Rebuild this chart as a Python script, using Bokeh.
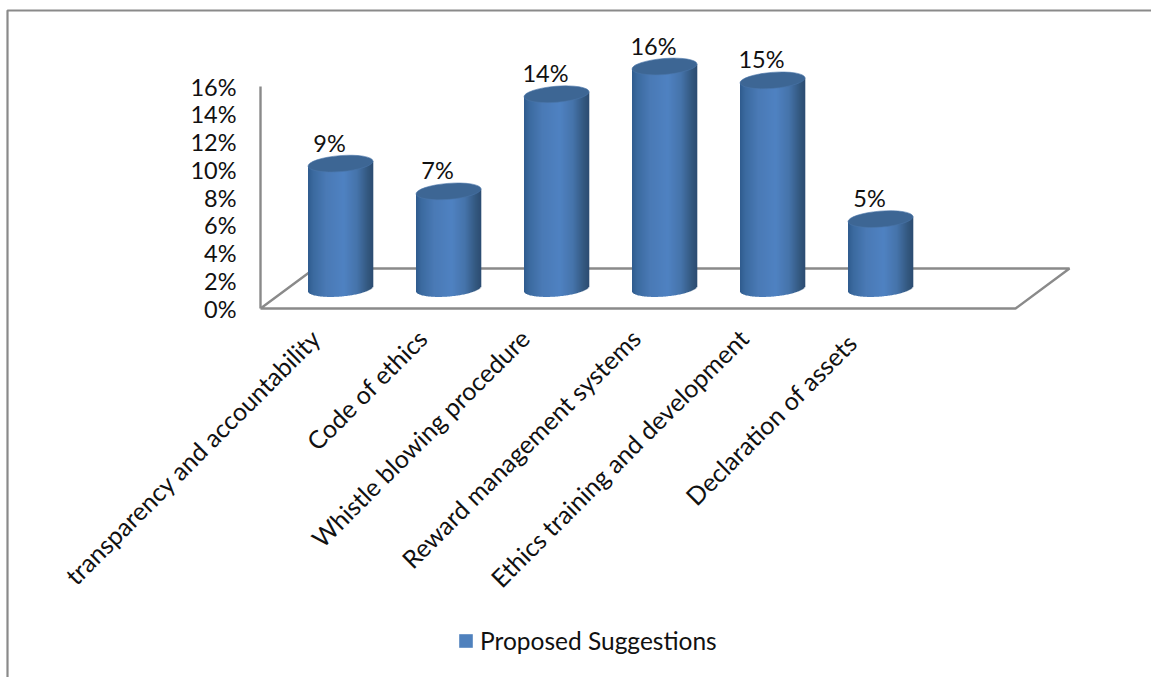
import math
import numpy as np
from bokeh.embed import file_html
from bokeh.resources import INLINE
from bokeh.core.properties import value
from bokeh.plotting import figure
from bokeh.models import ColumnDataSource, FixedTicker, Legend, LegendItem, LinearAxis, PrintfTickFormatter

# Survey results
categories = [
    "transparency and accountability",
    "Code of ethics",
    "Whistle blowing procedure",
    "Reward management systems",
    "Ethics training and development",
    "Declaration  of assets",
]
percentages = [9, 7, 14, 16, 15, 5]
axis_ticks = [0, 2, 4, 6, 8, 10, 12, 14, 16]
series_name = "Proposed Suggestions"

# Layout (canvas pixels)
W, H = 1151, 677
FLOOR_PX = 308.0          # canvas row of 0 % on the front wall edge
PX_PER_PCT = 13.875
WALL_X = 260.0
FIRST_BAR_X = 340.0
BAR_STEP = 108.0
BAR_W = 65.0
BASE_LIFT = 20.0          # the cylinders stand on the floor, behind its front edge
CAP_H = 8.0               # half height of the elliptical ends
TILT = 4.6                # degrees
FLOOR_W = 755.0
FLOOR_DX, FLOOR_DY = 54.0, 40.0
LABEL_NUDGE = [-1, -2, -8, -5, -5, 0]   # horizontal fine-tuning of the slanted labels
GREY = "#8a8a8a"
FONT = "Lato"


def pct(px_row):
    """Canvas row to a value on the percentage scale."""
    return (FLOOR_PX - px_row) / PX_PER_PCT


p = figure(
    width=W, height=H, output_backend="svg", toolbar_location=None,
    x_range=(0, W), y_range=(pct(H), pct(0)),
    x_axis_type=None, y_axis_type=None, min_border=0,
    background_fill_color="white", border_fill_color="white",
    outline_line_color=None,
)
p.grid.visible = False

# Outer frame of the chart area
p.line([1151, 7, 7], [pct(10), pct(10), pct(677)], line_color=GREY, line_width=2.2)

# Floor of the 3-D plot area
floor_x = [WALL_X, WALL_X + FLOOR_W, WALL_X + FLOOR_W + FLOOR_DX, WALL_X + FLOOR_DX, WALL_X]
floor_y = [0, 0, pct(FLOOR_PX - FLOOR_DY), pct(FLOOR_PX - FLOOR_DY), 0]
p.line(floor_x, floor_y, line_color=GREY, line_width=2.4)

# Value axis standing on the left of the floor
y_axis = LinearAxis(
    fixed_location=WALL_X,
    bounds=(axis_ticks[0], axis_ticks[-1]),
    ticker=FixedTicker(ticks=axis_ticks),
    formatter=PrintfTickFormatter(format="%d%%"),
    axis_line_color=GREY, axis_line_width=2.4,
    major_tick_line_color=None, minor_tick_line_color=None,
    major_label_text_font=FONT, major_label_text_font_size="23.5px",
    major_label_text_color="#111111", major_label_standoff=18,
)
p.add_layout(y_axis, "left")

# Horizontal shading across a cylinder: position, then red, green, blue
shade_pos = [0.0, 0.08, 0.28, 0.55, 0.75, 0.92, 1.0]
shade_r = [0x2f, 0x3b, 0x4a, 0x4f, 0x46, 0x33, 0x2c]
shade_g = [0x5b, 0x6a, 0x7a, 0x82, 0x74, 0x58, 0x4c]
shade_b = [0x8e, 0x9f, 0xb6, 0xc2, 0xab, 0x7f, 0x72]

left, right, top, bottom, color = [], [], [], [], []
cap_x, cap_y = [], []
tan_tilt = math.tan(math.radians(TILT))
base_row = FLOOR_PX - BASE_LIFT
for i, v in enumerate(percentages):
    cx = FIRST_BAR_X + i * BAR_STEP
    top_value = v + pct(base_row)
    cap_x.append(cx)
    cap_y.append(top_value)
    for dx in np.arange(-BAR_W / 2, BAR_W / 2, 1.0):
        mid = dx + 0.5
        t = (mid + BAR_W / 2) / BAR_W
        arc = CAP_H * math.sqrt(max(0.0, 1 - (2 * mid / BAR_W) ** 2))
        rgb = [int(np.interp(t, shade_pos, s)) for s in (shade_r, shade_g, shade_b)]
        left.append(cx + dx)
        right.append(cx + dx + 1.3)
        top.append(top_value + mid * tan_tilt / PX_PER_PCT)
        bottom.append(pct(base_row) + (mid * tan_tilt - arc) / PX_PER_PCT)
        color.append("#%02x%02x%02x" % tuple(rgb))

p.quad(left="left", right="right", top="top", bottom="bottom", fill_color="color", fill_alpha=1.0,
       line_color=None,
       source=ColumnDataSource(dict(left=left, right=right, top=top, bottom=bottom, color=color)))

# Elliptical tops of the cylinders
p.ellipse(cap_x, cap_y, width=BAR_W / math.cos(math.radians(TILT)), height=2 * CAP_H,
          angle=math.radians(TILT), width_units="screen", height_units="screen",
          fill_color="#3d6694", fill_alpha=1.0, line_color="#4a76aa", line_width=0.6)

# Value labels over the bars
p.text(
    [FIRST_BAR_X - 11 + i * BAR_STEP for i in range(len(percentages))],
    [v + pct(base_row) + 21 / PX_PER_PCT for v in percentages],
    text=[f"{v}%" for v in percentages],
    text_font=value(FONT), text_font_size="23.5px", text_color="#111111",
    text_align="center", text_baseline="middle",
)

# Slanted category labels, ending just under each bar
p.text(
    [FIRST_BAR_X - 24 + i * BAR_STEP + LABEL_NUDGE[i] for i in range(len(categories))],
    [pct(333)] * len(categories),
    text=categories, angle=math.radians(45),
    text_font=value(FONT), text_font_size="25px", text_color="#111111",
    text_align="right", text_baseline="middle",
)

# Legend under the plot
nan = float("nan")
swatch = p.quad(left=[nan], right=[nan], top=[nan], bottom=[nan], fill_color="#4f81bd", fill_alpha=1.0,
                line_color=None)
legend = Legend(
    items=[LegendItem(label=series_name, renderers=[swatch])],
    location=(457, 22), background_fill_alpha=0, border_line_color=None,
    glyph_width=17, glyph_height=17, label_standoff=6,
    label_text_font=FONT, label_text_font_size="24.5px", label_text_color="#111111",
)
p.add_layout(legend)

open("out.html", "w").write(file_html(p, INLINE))
